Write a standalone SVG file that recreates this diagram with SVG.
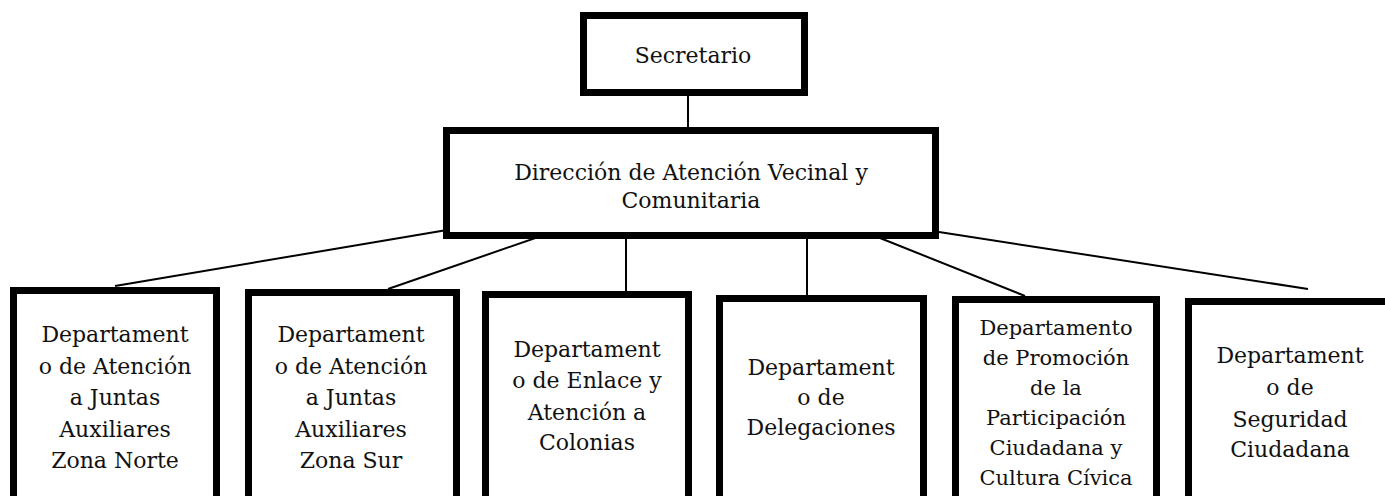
<svg xmlns="http://www.w3.org/2000/svg" width="1385" height="496" viewBox="0 0 1385 496">
<style>
.box{fill:#fff;stroke:#000;stroke-width:7}
.t{font-family:"DejaVu Serif","Liberation Serif",serif;font-size:22px;fill:#111;text-anchor:middle}
.s{font-size:21px}
.c{stroke:#000;stroke-width:2;fill:none}
</style>
<rect width="1385" height="496" fill="#fff"/>
<g id="connectors">
<line class="c" x1="688" y1="96" x2="688" y2="128"/>
<line class="c" x1="115" y1="286" x2="447" y2="230"/>
<line class="c" x1="388" y1="289" x2="547" y2="234"/>
<line class="c" x1="626" y1="238" x2="626" y2="292"/>
<line class="c" x1="807" y1="238" x2="807" y2="296"/>
<line class="c" x1="880" y1="238" x2="1025" y2="296"/>
<line class="c" x1="939" y1="232" x2="1308" y2="289"/>
</g>
<g id="secretario">
<rect class="box" x="583.5" y="15.5" width="221" height="77"/>
<text class="t" x="693" y="63">Secretario</text>
</g>
<g id="direccion">
<rect class="box" x="446.5" y="130.5" width="489" height="105"/>
<text class="t" x="691" y="180">Dirección de Atención Vecinal y</text>
<text class="t" x="691" y="208">Comunitaria</text>
</g>
<g id="dep-norte">
<rect class="box" x="13.5" y="290.5" width="203" height="210"/>
<text class="t" x="115"><tspan x="115" y="342">Departament</tspan><tspan x="115" y="374">o de Atención</tspan><tspan x="115" y="405">a Juntas</tspan><tspan x="115" y="437">Auxiliares</tspan><tspan x="115" y="468">Zona Norte</tspan></text>
</g>
<g id="dep-sur">
<rect class="box" x="248.5" y="292.5" width="208" height="210"/>
<text class="t" x="351"><tspan x="351" y="342">Departament</tspan><tspan x="351" y="374">o de Atención</tspan><tspan x="351" y="405">a Juntas</tspan><tspan x="351" y="437">Auxiliares</tspan><tspan x="351" y="468">Zona Sur</tspan></text>
</g>
<g id="dep-colonias">
<rect class="box" x="485.5" y="294.5" width="203" height="210"/>
<text class="t" x="587"><tspan x="587" y="357">Departament</tspan><tspan x="587" y="388">o de Enlace y</tspan><tspan x="587" y="420">Atención a</tspan><tspan x="587" y="450">Colonias</tspan></text>
</g>
<g id="dep-delegaciones">
<rect class="box" x="719.5" y="298.5" width="204" height="210"/>
<text class="t" x="821"><tspan x="821" y="375">Departament</tspan><tspan x="821" y="405">o de</tspan><tspan x="821" y="435">Delegaciones</tspan></text>
</g>
<g id="dep-participacion">
<rect class="box" x="955.5" y="299.5" width="201" height="210"/>
<text class="t s" x="1056"><tspan x="1056" y="335">Departamento</tspan><tspan x="1056" y="365">de Promoción</tspan><tspan x="1056" y="395">de la</tspan><tspan x="1056" y="425">Participación</tspan><tspan x="1056" y="455">Ciudadana y</tspan><tspan x="1056" y="485">Cultura Cívica</tspan></text>
</g>
<g id="dep-seguridad">
<rect class="box" x="1188.5" y="301.5" width="250" height="210"/>
<text class="t" x="1290"><tspan x="1290" y="363">Departament</tspan><tspan x="1290" y="395">o de</tspan><tspan x="1290" y="427">Seguridad</tspan><tspan x="1290" y="457">Ciudadana</tspan></text>
</g>
</svg>
